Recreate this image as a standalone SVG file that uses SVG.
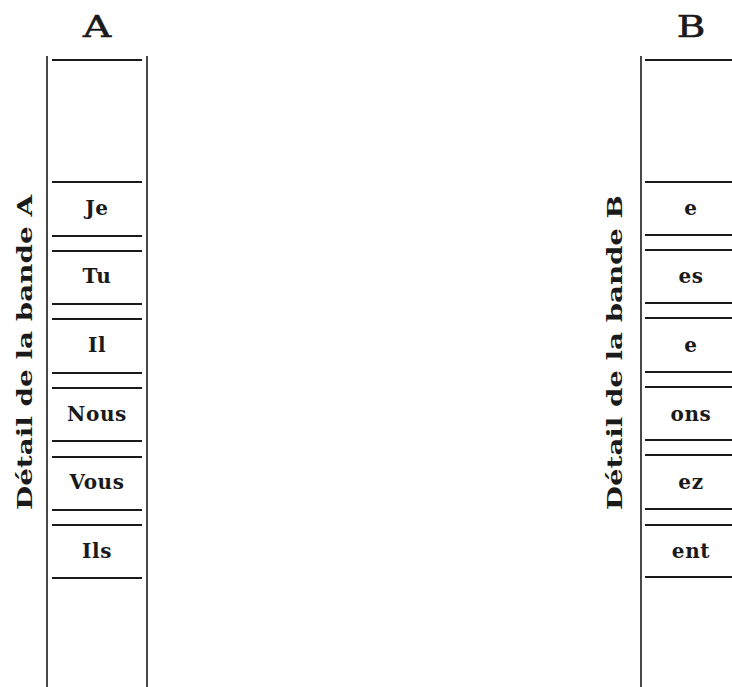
<svg xmlns="http://www.w3.org/2000/svg" width="732" height="687" viewBox="0 0 732 687">
<style>
.title{font-family:"DejaVu Serif","Liberation Serif",serif;font-size:30px;fill:#1a1a1a;text-anchor:middle;stroke:#1a1a1a;stroke-width:0.6}
.cell{font-family:"DejaVu Serif","Liberation Serif",serif;font-weight:bold;font-size:20px;letter-spacing:0.6px;fill:#1a1a1a;text-anchor:middle}
.side{font-family:"DejaVu Serif","Liberation Serif",serif;font-weight:bold;font-size:21px;fill:#1a1a1a;text-anchor:middle}
.v{stroke:#1a1a1a;stroke-width:1.6;fill:none}
.h{stroke:#1a1a1a;stroke-width:1.8;fill:none}
</style>
<rect width="732" height="687" fill="#ffffff"/>
<g id="bandeA">
<text class="title" transform="translate(97,37) scale(1.3,1)">A</text>
<text class="side" transform="translate(32,352.5) rotate(-90)" textLength="315" lengthAdjust="spacingAndGlyphs">Détail de la bande A</text>
<line class="v" x1="47" y1="56" x2="47" y2="687"/>
<line class="v" x1="147" y1="56" x2="147" y2="687"/>
<path class="h" d="M52 60H142M52 182H142M52 236H142M52 251H142M52 304H142M52 319H142M52 373H142M52 388H142M52 441H142M52 457H142M52 510H142M52 525H142M52 578H142"/>
<text class="cell" x="97" y="215">Je</text>
<text class="cell" x="97" y="283">Tu</text>
<text class="cell" x="97" y="352">Il</text>
<text class="cell" x="97" y="421">Nous</text>
<text class="cell" x="97" y="489">Vous</text>
<text class="cell" x="97" y="558">Ils</text>
</g>
<g id="bandeB">
<text class="title" transform="translate(691,37) scale(1.3,1)">B</text>
<text class="side" transform="translate(622,352.5) rotate(-90)" textLength="315" lengthAdjust="spacingAndGlyphs">Détail de la bande B</text>
<line class="v" x1="641" y1="56" x2="641" y2="687"/>
<path class="h" d="M645 60H732M645 182H732M645 235H732M645 250H732M645 303H732M645 318H732M645 372H732M645 387H732M645 440H732M645 455H732M645 509H732M645 525H732M645 577H732"/>
<text class="cell" x="691" y="215">e</text>
<text class="cell" x="691" y="283">es</text>
<text class="cell" x="691" y="352">e</text>
<text class="cell" x="691" y="421">ons</text>
<text class="cell" x="691" y="489">ez</text>
<text class="cell" x="691" y="558">ent</text>
</g>
<g id="connectors"></g>
</svg>
